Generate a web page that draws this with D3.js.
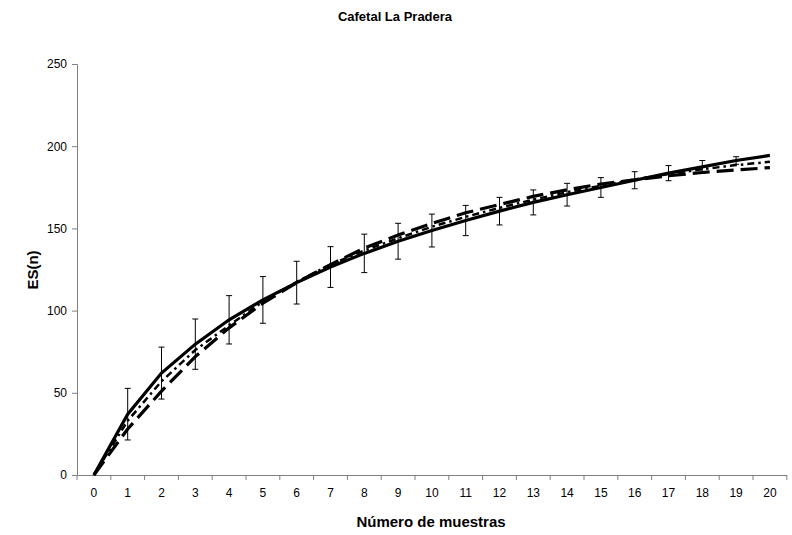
<!DOCTYPE html>
<html>
<head>
<meta charset="utf-8">
<script src="https://cdn.jsdelivr.net/npm/d3@7"></script>
<style>
  body { margin: 0; background: #fff; }
  svg { display: block; font-family: "Liberation Sans", Arial, sans-serif; }
</style>
</head>
<body>
<svg id="chart" width="792" height="535"></svg>
<script>
// Sample counts on the x axis
const samples = d3.range(0, 21).map(String);

// Expected species richness curves
const solidSeries =   [0, 37, 62, 79.6, 94.4, 106.5, 117, 126.5, 134.8, 142.2, 148.7, 154.8, 160.5, 165.8, 170.5, 174.9, 179.3, 183.6, 187.4, 191.3, 194.4];
const dashDotSeries = [0, 33, 57, 76, 91, 105.5, 117.5, 128, 136.5, 144, 151, 157, 162.5, 167.5, 172, 176, 179.8, 183, 186, 188.5, 190.5];
const longDashSeries = [0, 28, 51, 72, 89.5, 104.5, 117, 128, 138, 146, 153, 159.5, 164.5, 169.5, 173.5, 177, 179.5, 182, 184, 185.5, 187];

// Standard deviation around the solid curve
const errorSeries = [0, 15.7, 15.8, 15.3, 14.7, 14.2, 13, 12.4, 11.7, 10.9, 10, 9.2, 8.4, 7.6, 6.9, 6, 5.2, 4.6, 3.9, 2.3, 0];

const yTicks = [0, 50, 100, 150, 200, 250];

const svg = d3.select("#chart");
const plotLeft = 77, plotRight = 786.8, plotTop = 64, plotBottom = 475;

const x = d3.scaleBand().domain(samples).range([plotLeft, plotRight]).padding(0);
const y = d3.scaleLinear().domain([0, 250]).range([plotBottom, plotTop]);
const cx = d => x(d) + x.bandwidth() / 2;

const axisColor = "#808080";
const fontFamily = "Liberation Sans, Arial, sans-serif";

// Y axis
const yAxis = svg.append("g")
  .attr("transform", `translate(${plotLeft},0)`)
  .call(d3.axisLeft(y).tickValues(yTicks).tickSize(5).tickPadding(5));
yAxis.select(".domain").attr("stroke", axisColor);
yAxis.selectAll(".tick line").attr("stroke", axisColor);
yAxis.selectAll(".tick text").attr("font-size", 12).attr("fill", "#000")
  .attr("font-family", fontFamily);

// X axis: ticks fall between categories
const xAxis = svg.append("g")
  .attr("transform", `translate(0,${plotBottom})`)
  .call(d3.axisBottom(x).tickSize(0).tickPadding(13));
xAxis.select(".domain").attr("stroke", axisColor);
xAxis.selectAll(".tick text").attr("font-size", 12).attr("fill", "#000")
  .attr("font-family", fontFamily);
xAxis.selectAll("line.sep")
  .data(d3.range(0, samples.length + 1))
  .join("line")
  .attr("class", "sep")
  .attr("x1", i => plotLeft + i * x.bandwidth())
  .attr("x2", i => plotLeft + i * x.bandwidth())
  .attr("y1", 0).attr("y2", 5)
  .attr("stroke", axisColor);

// Error bars
const eb = svg.append("g").attr("stroke", "#000").attr("stroke-width", 1);
samples.forEach((s, i) => {
  const e = errorSeries[i];
  if (!e) return;
  const xc = cx(s);
  const y1 = y(solidSeries[i] + e), y2 = y(solidSeries[i] - e);
  eb.append("line").attr("x1", xc).attr("x2", xc).attr("y1", y1).attr("y2", y2);
  eb.append("line").attr("x1", xc - 3).attr("x2", xc + 3).attr("y1", y1).attr("y2", y1);
  eb.append("line").attr("x1", xc - 3).attr("x2", xc + 3).attr("y1", y2).attr("y2", y2);
});

const line = d3.line().x((d, i) => cx(samples[i])).y(d => y(d));

svg.append("path").datum(longDashSeries)
  .attr("d", line).attr("fill", "none").attr("stroke", "#000")
  .attr("stroke-width", 3.2).attr("stroke-dasharray", "17,7");

svg.append("path").datum(dashDotSeries)
  .attr("d", line).attr("fill", "none").attr("stroke", "#000")
  .attr("stroke-width", 2.5).attr("stroke-dasharray", "7,4,2.5,4");

svg.append("path").datum(solidSeries)
  .attr("d", line).attr("fill", "none").attr("stroke", "#000")
  .attr("stroke-width", 3.2);

// Titles
svg.append("text").attr("x", 395).attr("y", 21).attr("text-anchor", "middle")
  .attr("font-size", 13).attr("font-weight", "bold").text("Cafetal La Pradera");
svg.append("text").attr("x", 431).attr("y", 527).attr("text-anchor", "middle")
  .attr("font-size", 15).attr("font-weight", "bold").text("Número de muestras");
svg.append("text").attr("transform", "translate(38,270) rotate(-90)")
  .attr("text-anchor", "middle").attr("font-size", 15).attr("font-weight", "bold").text("ES(n)");
</script>
</body>
</html>
